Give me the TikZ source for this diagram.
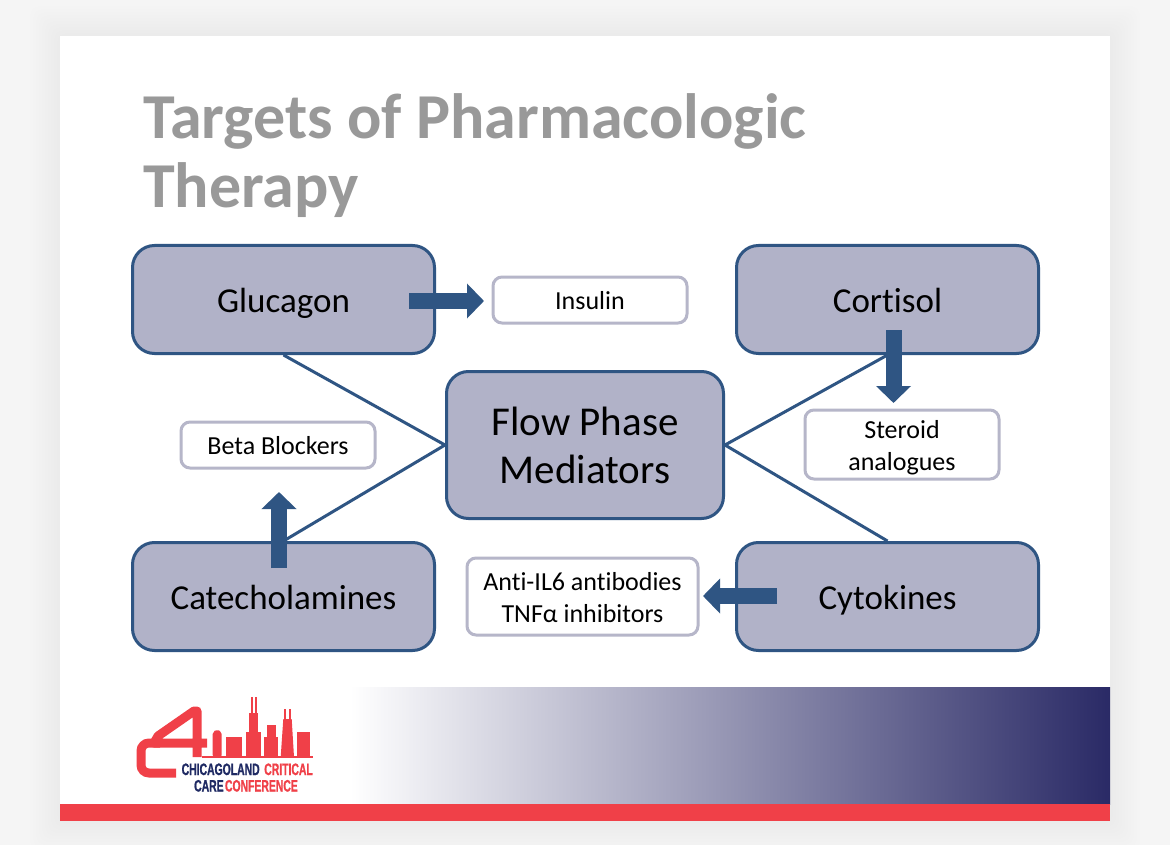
\documentclass[tikz,border=0pt]{standalone}
\usepackage{fontspec}
\setmainfont[Ligatures=NoCommon]{Carlito}
\newfontfamily\logofont[FakeStretch=0.63,FakeBold=1]{Liberation Sans Bold}
\usetikzlibrary{arrows.meta}
\definecolor{mediatorfill}{HTML}{B1B2C8}
\definecolor{mediatorline}{HTML}{2F5583}
\definecolor{drugline}{HTML}{B6B6C9}
\definecolor{titlegray}{HTML}{999999}
\definecolor{logored}{HTML}{F04048}
\definecolor{logonavy}{HTML}{1F2A63}
\definecolor{bandnavy}{HTML}{2A2A66}
\begin{document}
\begin{tikzpicture}[x=1pt,y=-1pt,
mediator/.style={%
draw=mediatorline,
fill=mediatorfill,
line width=3pt,
rounded corners=22pt,
minimum width=302pt,
minimum height=108pt,
text height=25pt,
text depth=0pt,
font=\fontsize{35}{40}\selectfont,
},
drug/.style={%
draw=drugline,
fill=white,
line width=3pt,
rounded corners=9pt,
align=center,
font=\fontsize{26}{32}\selectfont,
},
oneline/.style={%
minimum width=194pt,
minimum height=46pt,
text height=18pt,
text depth=0pt,
},
link/.style={%
draw=mediatorline,
line width=3pt,
},
block/.style={%
draw=mediatorline,
line width=16pt,
-{Triangle[length=17pt,width=34pt]},
},
logotext/.style={%
inner sep=0pt,
font=\logofont\fontsize{16.5}{16.5}\selectfont,
},
]
\useasboundingbox (0,0) rectangle (1170,845);
%% Page
\fill[black!4] (0,0) rectangle (1170,845);
\foreach \s in {3,6,...,30}{%
\fill[black,opacity=0.005,rounded corners=10pt] (60-\s,36-\s) rectangle (1110+\s,821+\s);
}
\fill[white] (60,36) rectangle (1110,821);
\shade[left color=white,middle color=mediatorfill,right color=bandnavy] (350,687) rectangle (1110,804);
\fill[logored] (60,804) rectangle (1110,821);
%% Title
\node[anchor=west,inner sep=0pt,align=left,text=titlegray,
font=\fontsize{64}{68.5}\bfseries\selectfont] (title) at (143,155.5) {Targets of Pharmacologic\\Therapy};
%% Mediators
\node[mediator,minimum width=277pt,minimum height=147pt,align=center,text height=,text depth=,
font=\fontsize{41}{48}\selectfont] (flow) at (585,445) {Flow Phase\\Mediators};
\node[mediator] (glucagon) at (283.5,299.5) {Glucagon};
\node[mediator] (cortisol) at (887.5,299.5) {Cortisol};
\node[mediator] (catechol) at (283.5,596.5) {Catecholamines};
\node[mediator] (cytokines) at (887.5,596.5) {Cytokines};
%% Links
\draw[link] (flow.west)--(glucagon.south);
\draw[link] (flow.west)--(catechol.north);
\draw[link] (flow.east)--(cortisol.south);
\draw[link] (flow.east)--(cytokines.north);
%% Therapies
\node[drug,oneline] (insulin) at (590,300) {Insulin};
\node[drug,minimum width=194pt,minimum height=69pt] (steroid) at (902,444.5) {\rule{0pt}{25pt}Steroid\\analogues};
\node[drug,oneline] (beta) at (278,445) {Beta Blockers};
\node[drug,minimum width=231pt,minimum height=77pt] (anti) at (582.5,596.5) {\rule{0pt}{21pt}Anti-IL6 antibodies\\TNFα inhibitors};
%% Arrows
\coordinate (gluTail) at (409,301);
\coordinate (gluTip) at (484,301);
\coordinate (corTail) at (893.5,330);
\coordinate (corTip) at (893.5,403);
\coordinate (catTail) at (279,568);
\coordinate (catTip) at (279,492);
\coordinate (cytTail) at (777,596);
\coordinate (cytTip) at (703,596);
\draw[block] (gluTail)--(gluTip);
\draw[block] (corTail)--(corTip);
\draw[block] (catTail)--(catTip);
\draw[block] (cytTail)--(cytTip);
%% Logo
\draw[logored,line width=9pt,rounded corners=8pt] (176,773)--(141,773)--(141,743)--(160,743);
\draw[logored,line width=9pt,line join=round] (207,743)--(154,743)--(158,736)--(194,711)--(197,711)--(197,757);
\fill[logored] (202,756) rectangle (313,758);
\fill[logored,rounded corners=2pt] (212.7,757)--(212.7,732)--(217,729.5)--(221.7,732)--(221.7,757)--cycle;
\fill[logored] (226,757) rectangle (242,737);
\fill[logored] (246,757) rectangle (261.3,732);
\fill[logored] (249,732) rectangle (258,713);
\fill[logored] (250.5,713) rectangle (252.5,697);
\fill[logored] (255,713) rectangle (257,697);
\fill[logored] (264,757) rectangle (278,737);
\fill[logored] (266.7,737) rectangle (275.7,725);
\fill[logored] (280.7,757)--(283.3,719)--(291.7,719)--(294,757)--cycle;
\fill[logored] (284,719) rectangle (286,709);
\fill[logored] (288.5,719) rectangle (290.5,709);
\fill[logored] (296.7,757) rectangle (310,732);
\node[logotext,anchor=base west,text=logonavy] (chicago) at (181.5,775) {CHICAGOLAND};
\node[logotext,anchor=base east,text=logored] (critical) at (313,775) {CRITICAL};
\node[logotext,anchor=base west,text=logonavy] (care) at (194,791.5) {CARE};
\node[logotext,anchor=base east,text=logored] (conference) at (298,791.5) {CONFERENCE};
\end{tikzpicture}
\end{document}
